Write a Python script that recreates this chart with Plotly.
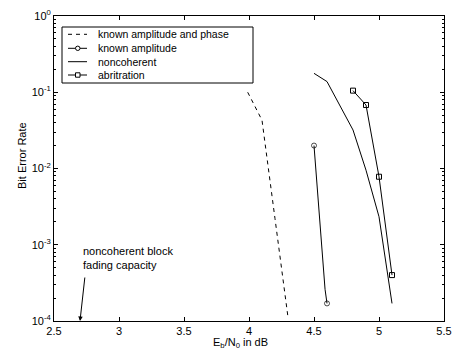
import plotly.graph_objects as go

# data
kap_x = [3.99, 4.1, 4.2, 4.3]
kap_y = [0.1, 0.043, 2.2e-3, 1.12e-4]

ka_x = [4.5, 4.585, 4.6]
ka_y = [0.02, 2.6e-4, 1.7e-4]
ka_marker_sizes = [5, 0, 5]

nc_x = [4.5, 4.6, 4.8, 4.9, 5.0, 5.1]
nc_y = [0.177, 0.138, 0.032, 0.0095, 0.00233, 1.7e-4]

ab_x = [4.8, 4.9, 5.0, 5.1]
ab_y = [0.105, 0.068, 0.0078, 4.0e-4]

x_ticks = [2.5, 3, 3.5, 4, 4.5, 5, 5.5]
x_ticktext = ["2.5", "3", "3.5", "4", "4.5", "5", "5.5"]
y_ticks = [1e-4, 1e-3, 1e-2, 1e-1, 1]
y_ticktext = ["10<sup>-4</sup>", "10<sup>-3</sup>", "10<sup>-2</sup>", "10<sup>-1</sup>", "10<sup>0</sup>"]

legend_names = ["known amplitude and phase", "known amplitude", "noncoherent", "abritration"]
legend_dash = ["4px,4px", "solid", "solid", "solid"]
legend_marker = [None, "circle", None, "square"]

FONT = "Liberation Sans, Arial, sans-serif"
W, H = 452, 354
L, R, T, B = 54, 8, 16, 33
PW, PH = W - L - R, H - T - B


def px(x):
    return (x - L) / PW


def py(y):
    return (H - B - y) / PH


fig = go.Figure()
fig.add_trace(go.Scatter(x=kap_x, y=kap_y, mode="lines", name=legend_names[0],
                         line=dict(color="black", width=1, dash="4px,4px")))
fig.add_trace(go.Scatter(x=ka_x, y=ka_y, mode="lines+markers", name=legend_names[1],
                         line=dict(color="black", width=1),
                         marker=dict(symbol="circle-open", size=ka_marker_sizes, color="black", line=dict(width=1))))
fig.add_trace(go.Scatter(x=nc_x, y=nc_y, mode="lines", name=legend_names[2],
                         line=dict(color="black", width=1)))
fig.add_trace(go.Scatter(x=ab_x, y=ab_y, mode="lines+markers", name=legend_names[3],
                         line=dict(color="black", width=1),
                         marker=dict(symbol="square-open", size=5, color="black", line=dict(width=1))))

# manual legend (compact, MATLAB style)
fig.add_shape(type="rect", xref="paper", yref="paper", x0=px(62), x1=px(253), y0=py(83), y1=py(27),
              line=dict(color="black", width=1), fillcolor="white", layer="above")
item_y = [34.3, 48.3, 61.7, 75.0]
for name, dash, mk, yy in zip(legend_names, legend_dash, legend_marker, item_y):
    fig.add_shape(type="line", xref="paper", yref="paper", x0=px(68), x1=px(87), y0=py(yy), y1=py(yy),
                  line=dict(color="black", width=1, dash=dash), layer="above")
    if mk is not None:
        fig.add_shape(type="circle" if mk == "circle" else "rect", xref="paper", yref="paper",
                      x0=px(75.5), x1=px(80), y0=py(yy + 2.2), y1=py(yy - 2.2),
                      line=dict(color="black", width=1), fillcolor="white", layer="above")
    fig.add_annotation(x=px(96), y=py(yy), xref="paper", yref="paper", xanchor="left", yanchor="middle",
                       text=name, showarrow=False, font=dict(family=FONT, size=10.5, color="black"))

fig.add_annotation(x=2.7, y=-4, xref="x", yref="y", ax=5, ay=-45, axref="pixel", ayref="pixel",
                   text="", showarrow=True, arrowhead=2, arrowsize=0.9, arrowwidth=1, arrowcolor="black")
fig.add_annotation(x=2.708, y=-2.977, xref="x", yref="y", xanchor="left", yanchor="top",
                   text="noncoherent block<br>fading capacity", showarrow=False, align="left",
                   font=dict(family=FONT, size=11, color="black"))

# axis titles
fig.add_annotation(x=px(240), y=py(343), xref="paper", yref="paper", xanchor="center", yanchor="middle",
                   text="E<sub>b</sub>/N<sub>0</sub> in dB", showarrow=False,
                   font=dict(family=FONT, size=11, color="black"))
fig.add_annotation(x=px(22), y=py(156), xref="paper", yref="paper", xanchor="center", yanchor="middle",
                   text="Bit Error Rate", textangle=-90, showarrow=False,
                   font=dict(family=FONT, size=11, color="black"))

fig.update_layout(
    width=W, height=H,
    margin=dict(l=L, r=R, t=T, b=B, autoexpand=False),
    paper_bgcolor="white", plot_bgcolor="white",
    font=dict(family=FONT, size=11, color="black"),
    showlegend=False,
    xaxis=dict(range=[2.5, 5.5], tickvals=x_ticks, ticktext=x_ticktext, automargin=False,
               ticks="inside", ticklen=4, tickcolor="black", showgrid=False, zeroline=False,
               showline=True, linecolor="black", linewidth=1, mirror="ticks"),
    yaxis=dict(type="log", range=[-4, 0], tickvals=y_ticks, ticktext=y_ticktext, automargin=False,
               ticks="inside", ticklen=4, tickcolor="black", showgrid=False, zeroline=False,
               showline=True, linecolor="black", linewidth=1, mirror="ticks",
               minor=dict(ticks="inside", ticklen=2, tickcolor="black", dtick="D1", showgrid=False)),
)

fig.write_html("out.html", config={"displayModeBar": False},
               post_script="document.body.style.margin='0';document.body.style.overflow='hidden';")
